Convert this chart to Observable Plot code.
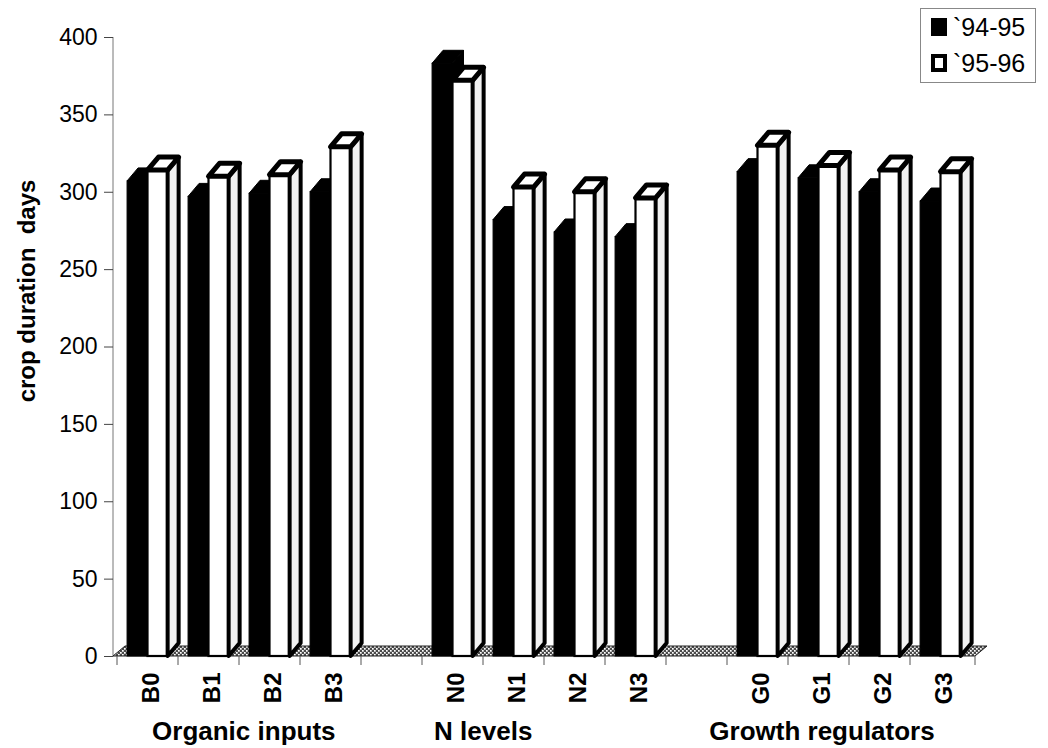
<!DOCTYPE html>
<html>
<head>
<meta charset="utf-8">
<script src="https://cdn.jsdelivr.net/npm/d3@7"></script>
<script src="https://cdn.jsdelivr.net/npm/@observablehq/plot@0.6"></script>
<style>
  body { margin: 0; background: #fff; font-family: "Liberation Sans", Arial, sans-serif; }
  #chart { position: relative; width: 1048px; height: 748px; }
  .legend { position: absolute; left: 920px; top: 8px; width: 116px; height: 75px;
            box-sizing: border-box; border: 1px solid #888; background: #fff; }
  .legend .item { position: absolute; left: 10px; height: 20px; display: flex; align-items: center; }
  .legend .swatch { width: 16px; height: 18px; box-sizing: border-box; margin-right: 6px; }
  .legend .solid { background: #000; }
  .legend .hollow { background: #fff; border: 4px solid #000; }
  .legend .name { font-size: 25px; line-height: 20px; color: #000; }
</style>
</head>
<body>
<div id="chart"></div>
<script>
// Treatment groups and their four levels each
const groups = ["Organic inputs", "N levels", "Growth regulators"];
const treatments = ["B0", "B1", "B2", "B3", "N0", "N1", "N2", "N3", "G0", "G1", "G2", "G3"];

// Crop duration (days) per season
const seriesNames = ["`94-95", "`95-96"];
const season9495 = [307, 297, 299, 300, 383, 282, 274, 271, 313, 309, 300, 294];
const season9596 = [314, 310, 311, 329, 372, 303, 300, 296, 330, 317, 314, 313];

// Value axis ticks
const yTicks = [0, 50, 100, 150, 200, 250, 300, 350, 400];
const yLabel = "crop duration\u00a0 days";

// Band domain: four treatments per group, an empty slot between groups
const slots = groups.flatMap((g, i) => [
  ...treatments.slice(i * 4, i * 4 + 4),
  ...(i < groups.length - 1 ? [`gap${i}`] : [])
]);

const rows = treatments.map((t, i) => ({treatment: t, a: season9495[i], b: season9596[i]}));

// Pixel extrusion used for the pseudo-3D look
const depthX = 11, depthY = 13;

// Draws one extruded column: front face, right side, top
function box(g, x0, x1, yTop, yBase, st) {
  const dx = depthX, dy = depthY;
  g.append("rect")
    .attr("x", x0).attr("y", yTop).attr("width", x1 - x0).attr("height", yBase - yTop)
    .attr("fill", st.front).attr("stroke", st.stroke).attr("stroke-width", st.frontWidth);
  g.append("path")
    .attr("d", `M${x1},${yBase}L${x1},${yTop}L${x1 + dx},${yTop - dy}L${x1 + dx},${yBase - dy}Z`)
    .attr("fill", st.side).attr("stroke", st.stroke).attr("stroke-width", st.sideWidth)
    .attr("stroke-linejoin", "round");
  g.append("path")
    .attr("d", `M${x0},${yTop}L${x1},${yTop}L${x1 + dx},${yTop - dy}L${x0 + dx},${yTop - dy}Z`)
    .attr("fill", st.top).attr("stroke", st.stroke).attr("stroke-width", st.topWidth)
    .attr("stroke-linejoin", "round");
}

const darkStyle = {front: "#000", side: "#000", top: "#000", stroke: "#000", frontWidth: 1, sideWidth: 1, topWidth: 1};
const lightStyle = {front: "#fff", side: "#f1f1f1", top: "#fff", stroke: "#000", frontWidth: 2.2, sideWidth: 4, topWidth: 5};

// Floor, back-wall edge and category boundary ticks
function floorMark(index, scales) {
  const {x, y} = scales;
  const [r0, r1] = x.range();
  const yb = y(0);
  const g = d3.create("svg:g");
  const defs = g.append("defs");
  const pat = defs.append("pattern").attr("id", "floor-dots")
    .attr("width", 4).attr("height", 4).attr("patternUnits", "userSpaceOnUse");
  pat.append("rect").attr("width", 4).attr("height", 4).attr("fill", "#4a4a4a");
  pat.append("rect").attr("x", 0).attr("y", 0).attr("width", 1.7).attr("height", 1.7).attr("fill", "#fff");
  pat.append("rect").attr("x", 2).attr("y", 2).attr("width", 1.7).attr("height", 1.7).attr("fill", "#fff");
  g.append("line").attr("x1", r0).attr("x2", r0).attr("y1", y(400)).attr("y2", yb)
    .attr("stroke", "#777").attr("stroke-width", 1);
  g.append("path")
    .attr("d", `M${r0},${yb}L${r1},${yb}L${r1 + 12},${yb - 10}L${r0 + 12},${yb - 10}Z`)
    .attr("fill", "url(#floor-dots)").attr("stroke", "#222").attr("stroke-width", 1);
  const bounds = [...slots.map((s) => x(s)), r1];
  for (const b of bounds) {
    g.append("line").attr("x1", b).attr("x2", b).attr("y1", yb).attr("y2", yb + 9)
      .attr("stroke", "#555").attr("stroke-width", 1);
  }
  return g.node();
}

// Clustered columns: season 1 at left, season 2 in front to its right
function columnsMark(index, scales) {
  const {x, y} = scales;
  const bw = x.bandwidth();
  const yb = y(0);
  const g = d3.create("svg:g");
  for (const r of rows) {
    const s = x(r.treatment);
    box(g, s + bw * 0.165, s + bw * 0.5, y(r.a), yb, darkStyle);
    box(g, s + bw * 0.5, s + bw * 0.83, y(r.b), yb, lightStyle);
  }
  return g.node();
}

const bw = (1048 - 113 - 73) / slots.length;
const groupLabelAt = [
  {text: groups[0], x: treatments[1], dx: bw / 2 + 4},
  {text: groups[1], x: treatments[5], dx: -bw / 2},
  {text: groups[2], x: treatments[9], dx: 3}
];

const chart = Plot.plot({
  width: 1048,
  height: 748,
  marginLeft: 113,
  marginRight: 73,
  marginTop: 37,
  marginBottom: 92,
  style: {fontFamily: "'Liberation Sans', Arial, sans-serif", color: "#000", background: "#fff"},
  x: {type: "band", domain: slots, padding: 0, axis: null},
  y: {domain: [0, 400], axis: null},
  marks: [
    floorMark,
    columnsMark,
    Plot.axisY({ticks: yTicks, tickSize: 9, tickPadding: 7, fontSize: 23, label: null, stroke: "#444"}),
    Plot.axisX(treatments, {tickSize: 0, tickPadding: 16, tickRotate: -90, fontSize: 24,
      fontWeight: "bold", label: null, dx: 3}),
    Plot.text([yLabel], {frameAnchor: "left", textAnchor: "middle", rotate: -90, dx: -86, dy: -56,
      fontSize: 24, fontWeight: "bold"}),
    ...groupLabelAt.map((d) => Plot.text([d.text], {x: () => d.x, frameAnchor: "bottom", dy: 83,
      dx: d.dx, fontSize: 26, fontWeight: "bold"}))
  ]
});

const root = document.getElementById("chart");
root.appendChild(chart);

// Legend box in the upper right corner
const legend = d3.select(root).append("div").attr("class", "legend");
seriesNames.forEach((name, i) => {
  const item = legend.append("div").attr("class", "item").style("top", `${8 + i * 36}px`);
  item.append("span").attr("class", `swatch ${i === 0 ? "solid" : "hollow"}`);
  item.append("span").attr("class", "name").text(name);
});
</script>
</body>
</html>
